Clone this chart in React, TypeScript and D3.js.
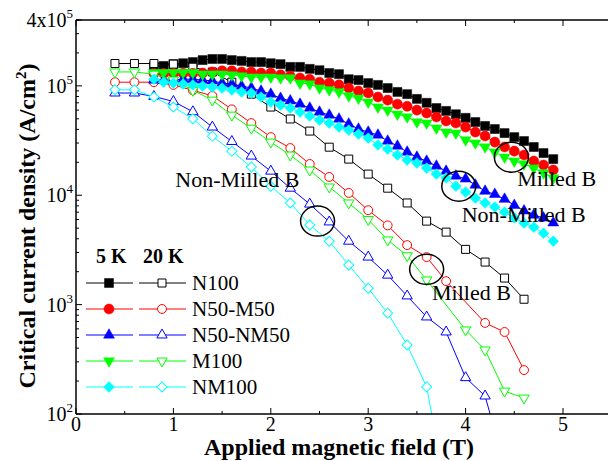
import React from 'react';
import * as d3 from 'd3';

// fields (T) at which each temperature was measured
const field5K = [0.8, 0.9, 1.0, 1.1, 1.2, 1.3, 1.4, 1.5, 1.6, 1.7, 1.8, 1.9, 2.0, 2.1, 2.2, 2.3, 2.4, 2.5, 2.6, 2.7, 2.8, 2.9, 3.0, 3.1, 3.2, 3.3, 3.4, 3.5, 3.6, 3.7, 3.8, 3.9, 4.0, 4.1, 4.2, 4.3, 4.4, 4.5, 4.6, 4.7, 4.8, 4.9];
const field20K = [0.4, 0.6, 0.8, 1.0, 1.2, 1.4, 1.6, 1.8, 2.0, 2.2, 2.4, 2.6, 2.8, 3.0, 3.2, 3.4, 3.6, 3.8, 4.0, 4.2, 4.4, 4.6];

// Jc (A/cm2) at 5 K
const n100_5K = [1.5e5, 1.52e5, 1.58e5, 1.61e5, 1.65e5, 1.72e5, 1.76e5, 1.76e5, 1.72e5, 1.69e5, 1.65e5, 1.65e5, 1.61e5, 1.58e5, 1.49e5, 1.49e5, 1.43e5, 1.39e5, 1.31e5, 1.28e5, 1.15e5, 1.13e5, 1.06e5, 1.02e5, 9.55e4, 8.8e4, 8.4e4, 7.6e4, 7.0e4, 6.27e4, 5.9e4, 5.5e4, 5.1e4, 4.67e4, 4.3e4, 4.03e4, 3.7e4, 3.4e4, 3.13e4, 2.76e4, 2.43e4, 2.14e4];
const n50m50_5K = [1.3e5, 1.3e5, 1.3e5, 1.3e5, 1.3e5, 1.31e5, 1.34e5, 1.37e5, 1.37e5, 1.34e5, 1.34e5, 1.31e5, 1.31e5, 1.26e5, 1.23e5, 1.18e5, 1.15e5, 1.08e5, 1.06e5, 1.02e5, 9.55e4, 8.96e4, 8.6e4, 7.9e4, 7.4e4, 6.8e4, 6.5e4, 6.0e4, 5.64e4, 5.19e4, 4.77e4, 4.57e4, 4.2e4, 3.78e4, 3.48e4, 3.06e4, 2.76e4, 2.53e4, 2.33e4, 2.05e4, 1.89e4, 1.7e4];
const n50nm50_5K = [1.13e5, 1.13e5, 1.13e5, 1.15e5, 1.15e5, 1.13e5, 1.11e5, 1.06e5, 1.04e5, 9.96e4, 9.55e4, 8.96e4, 8.4e4, 7.7e4, 7.3e4, 6.8e4, 6.27e4, 5.76e4, 5.4e4, 4.98e4, 4.48e4, 4.03e4, 3.78e4, 3.55e4, 3.13e4, 2.82e4, 2.48e4, 2.23e4, 2.05e4, 1.85e4, 1.66e4, 1.5e4, 1.41e4, 1.24e4, 1.09e4, 1.02e4, 9.2e3, 8.1e3, 7.2e3, 6.6e3, 6.2e3, 5.6e3];
const m100_5K = [1.32e5, 1.32e5, 1.32e5, 1.32e5, 1.32e5, 1.28e5, 1.28e5, 1.28e5, 1.26e5, 1.23e5, 1.2e5, 1.2e5, 1.2e5, 1.18e5, 1.18e5, 1.06e5, 1.04e5, 9.55e4, 9.2e4, 8.8e4, 8.1e4, 7.7e4, 7.1e4, 6.4e4, 6.0e4, 5.5e4, 5.19e4, 4.67e4, 4.57e4, 4.11e4, 3.78e4, 3.7e4, 3.2e4, 3.0e4, 2.76e4, 2.48e4, 2.23e4, 2.05e4, 1.93e4, 1.77e4, 1.6e4, 1.44e4];
const nm100_5K = [1.15e5, 1.08e5, 1.06e5, 1.04e5, 1.02e5, 9.96e4, 9.75e4, 9.55e4, 9.16e4, 8.8e4, 8.6e4, 7.9e4, 7.1e4, 6.67e4, 6.27e4, 5.76e4, 5.3e4, 4.87e4, 4.57e4, 4.2e4, 3.94e4, 3.62e4, 3.33e4, 2.88e4, 2.64e4, 2.33e4, 2.1e4, 1.97e4, 1.77e4, 1.56e4, 1.44e4, 1.21e4, 1.07e4, 9.4e3, 8.5e3, 7.8e3, 7.0e3, 6.2e3, 5.57e3, 5.1e3, 4.5e3, 3.8e3];

// Jc (A/cm2) at 20 K (null = no point)
const n100_20K = [1.6e5, 1.6e5, 1.6e5, 1.58e5, 1.48e5, 1.34e5, 1.08e5, 8.4e4, 6.4e4, 4.98e4, 3.86e4, 2.75e4, 2.14e4, 1.56e4, 1.16e4, 8.5e3, 5.8e3, 4.6e3, 3.2e3, 2.45e3, 1.75e3, 1.12e3];
const n50m50_20K = [1.08e5, 1.08e5, 1.08e5, 1.02e5, 9.1e4, 8.1e4, 6.1e4, 4.57e4, 3.4e4, 2.7e4, 1.93e4, 1.47e4, 1.05e4, 7.3e3, 5.3e3, 3.5e3, 2.72e3, 1.64e3, null, 680, 562, 252];
const n50nm50_20K = [8.6e4, 8.6e4, 8.0e4, 7.2e4, 5.8e4, 4.2e4, 3.1e4, 2.28e4, 1.66e4, 1.16e4, 8.3e3, 5.7e3, 3.8e3, 2.72e3, 1.86e3, 1.2e3, 771, 562, 215, 146, 34, null];
const m100_20K = [1.34e5, 1.34e5, 1.28e5, 1.13e5, 9.1e4, 7.4e4, 5.4e4, 4.1e4, 3.06e4, 2.33e4, 1.7e4, 1.19e4, 8.5e3, 6.0e3, 3.9e3, 2.8e3, 1.68e3, null, 587, 385, 162, 140];
const nm100_20K = [9.2e4, 9.2e4, 7.9e4, 6.4e4, 5.0e4, 3.47e4, 2.53e4, 1.81e4, 1.21e4, 8.5e3, 5.35e3, 3.8e3, 2.3e3, 1.41e3, 836, 427, 177, 20, null, null, null, null];

const sampleNames = ['N100', 'N50-M50', 'N50-NM50', 'M100', 'NM100'];
const sampleColors = ['#000000', '#ff0000', '#0000ff', '#00ff00', '#00ffff'];
const sampleShapes = ['square', 'circle', 'up', 'down', 'diamond'];
const data5K = [n100_5K, n50m50_5K, n50nm50_5K, m100_5K, nm100_5K];
const data20K = [n100_20K, n50m50_20K, n50nm50_20K, m100_20K, nm100_20K];

const xTickValues = [0, 1, 2, 3, 4, 5];
const yTickValues = [1e2, 1e3, 1e4, 1e5, 4e5];
const yTickBases = ['10', '10', '10', '10', '4x10'];
const yTickExps = ['2', '3', '4', '5', '5'];

// circled groups and their labels, anchored in data units (T, A/cm2)
const circles = [[4.47, 2.23e4], [3.93, 1.21e4], [2.48, 5.8e3], [3.6, 2.1e3]];
const notes = [
  { text: 'Milled B', b: 4.53, jc: 1.21e4 },
  { text: 'Non-Milled B', b: 3.96, jc: 5.7e3 },
  { text: 'Non-Milled B', b: 1.02, jc: 1.19e4 },
  { text: 'Milled B', b: 3.655, jc: 1.1e3 },
];

const W = 608;
const H = 461;
const left = 76;
const top = 20;
const bottom = 414;
const FONT = '"Liberation Serif", "Times New Roman", serif';

const x = d3.scaleLinear().domain([0, 5.5]).range([left, left + 5.5 * 97.4]);
const y = d3.scaleLog().domain([1e2, 4e5]).range([bottom, top]);

function markerPath(shape: string, open: boolean) {
  const s = d3.symbol();
  if (shape === 'square') return s.type(d3.symbolSquare).size(open ? 64 : 81)();
  if (shape === 'circle') return s.type(d3.symbolCircle).size(open ? 62 : 80)();
  if (shape === 'up' || shape === 'down') return s.type(d3.symbolTriangle).size(open ? 46 : 52)();
  return s.type(d3.symbolSquare).size(open ? 50 : 58)();
}

function markerRot(shape: string) {
  if (shape === 'down') return ' rotate(180)';
  if (shape === 'diamond') return ' rotate(45)';
  return '';
}

const Marker = ({ cx, cy, shape, color, open }: any) => (
  <path
    d={markerPath(shape, open) as string}
    transform={`translate(${cx},${cy})${markerRot(shape)}`}
    fill={open ? '#fff' : color}
    stroke={color}
    strokeWidth={open ? 1 : 0.5}
  />
);

const line = d3.line<[number, number]>().x(d => x(d[0])).y(d => y(d[1]));

function pairs(fields: number[], vals: (number | null)[]): [number, number][] {
  const out: [number, number][] = [];
  fields.forEach((f, i) => {
    const v = vals[i];
    if (v != null) out.push([f, v]);
  });
  return out;
}

export default function App() {
  const minorY: number[] = [];
  [1e2, 1e3, 1e4, 1e5].forEach(dec => {
    for (let k = 2; k <= 9; k++) if (dec * k <= 4e5) minorY.push(dec * k);
  });
  const minorX = [0.5, 1.5, 2.5, 3.5, 4.5];

  return (
    <div style={{ position: 'absolute', left: 0, top: 0, background: '#fff' }}>
      <svg width={W} height={H} style={{ display: 'block', fontFamily: FONT }}>
        <defs>
          <clipPath id="plotClip">
            <rect x={left} y={top - 8} width={W - left} height={bottom - top + 8} />
          </clipPath>
        </defs>
        <rect width={W} height={H} fill="#fff" />

        <g clipPath="url(#plotClip)">
          {sampleNames.map((name, i) => {
            const p5 = pairs(field5K, data5K[i]);
            const p20 = pairs(field20K, data20K[i]);
            return (
              <g key={name}>
                <path d={line(p5) as string} fill="none" stroke={sampleColors[i]} strokeWidth={1} />
                {p5.map((d, j) => (
                  <Marker key={'f' + j} cx={x(d[0])} cy={y(d[1])} shape={sampleShapes[i]} color={sampleColors[i]} open={false} />
                ))}
                <path d={line(p20) as string} fill="none" stroke={sampleColors[i]} strokeWidth={1} />
                {p20.map((d, j) => (
                  <Marker key={'o' + j} cx={x(d[0])} cy={y(d[1])} shape={sampleShapes[i]} color={sampleColors[i]} open={true} />
                ))}
              </g>
            );
          })}
        </g>

        {/* frame */}
        <line x1={left} x2={W} y1={top} y2={top} stroke="#000" strokeWidth={1.5} />
        <line x1={left} x2={W} y1={bottom} y2={bottom} stroke="#000" strokeWidth={1.5} />
        <line x1={left} x2={left} y1={top} y2={bottom} stroke="#000" strokeWidth={1.5} />

        {xTickValues.map(t => (
          <g key={'xt' + t}>
            <line x1={x(t)} x2={x(t)} y1={bottom} y2={bottom - 6} stroke="#000" strokeWidth={1} />
            <line x1={x(t)} x2={x(t)} y1={top} y2={top + 6} stroke="#000" strokeWidth={1} />
            <text x={x(t)} y={431} textAnchor="middle" fontSize={20}>{t}</text>
          </g>
        ))}
        {minorX.map(t => (
          <g key={'xm' + t}>
            <line x1={x(t)} x2={x(t)} y1={bottom} y2={bottom - 3} stroke="#000" strokeWidth={1} />
            <line x1={x(t)} x2={x(t)} y1={top} y2={top + 3} stroke="#000" strokeWidth={1} />
          </g>
        ))}
        {yTickValues.map((t, i) => (
          <g key={'yt' + t}>
            <line x1={left} x2={left + 6} y1={y(t)} y2={y(t)} stroke="#000" strokeWidth={1} />
            <text x={73} y={y(t) + 7} textAnchor="end" fontSize={20}>
              {yTickBases[i]}
              <tspan dy={-9} fontSize={13}>{yTickExps[i]}</tspan>
            </text>
          </g>
        ))}
        {minorY.map(t => (
          <line key={'ym' + t} x1={left} x2={left + 3} y1={y(t)} y2={y(t)} stroke="#000" strokeWidth={1} />
        ))}

        {/* axis titles */}
        <text x={339} y={455} textAnchor="middle" fontSize={24} fontWeight="bold">Applied magnetic field (T)</text>
        <text transform="translate(35,226) rotate(-90)" textAnchor="middle" fontSize={24} fontWeight="bold">
          Critical current density (A/cm<tspan dy={-9} fontSize={15}>2</tspan><tspan dy={9}>)</tspan>
        </text>

        {/* annotations */}
        {circles.map((c, i) => (
          <ellipse key={'c' + i} cx={x(c[0])} cy={y(c[1])} rx={17} ry={15} fill="none" stroke="#000" strokeWidth={1.5} />
        ))}
        {notes.map((n, i) => (
          <text key={'n' + i} x={x(n.b)} y={y(n.jc)} fontSize={22}>{n.text}</text>
        ))}

        {/* legend */}
        <text x={96} y={263} fontSize={20} fontWeight="bold">5 K</text>
        <text x={143} y={263} fontSize={20} fontWeight="bold">20 K</text>
        {sampleNames.map((name, i) => {
          const ly = 283 + i * 26;
          return (
            <g key={'lg' + name}>
              <line x1={86} x2={133} y1={ly} y2={ly} stroke={sampleColors[i]} strokeWidth={1} />
              <Marker cx={109} cy={ly} shape={sampleShapes[i]} color={sampleColors[i]} open={false} />
              <line x1={139} x2={186} y1={ly} y2={ly} stroke={sampleColors[i]} strokeWidth={1} />
              <Marker cx={162} cy={ly} shape={sampleShapes[i]} color={sampleColors[i]} open={true} />
              <text x={192} y={ly + 7} fontSize={21}>{name}</text>
            </g>
          );
        })}
      </svg>
    </div>
  );
}
